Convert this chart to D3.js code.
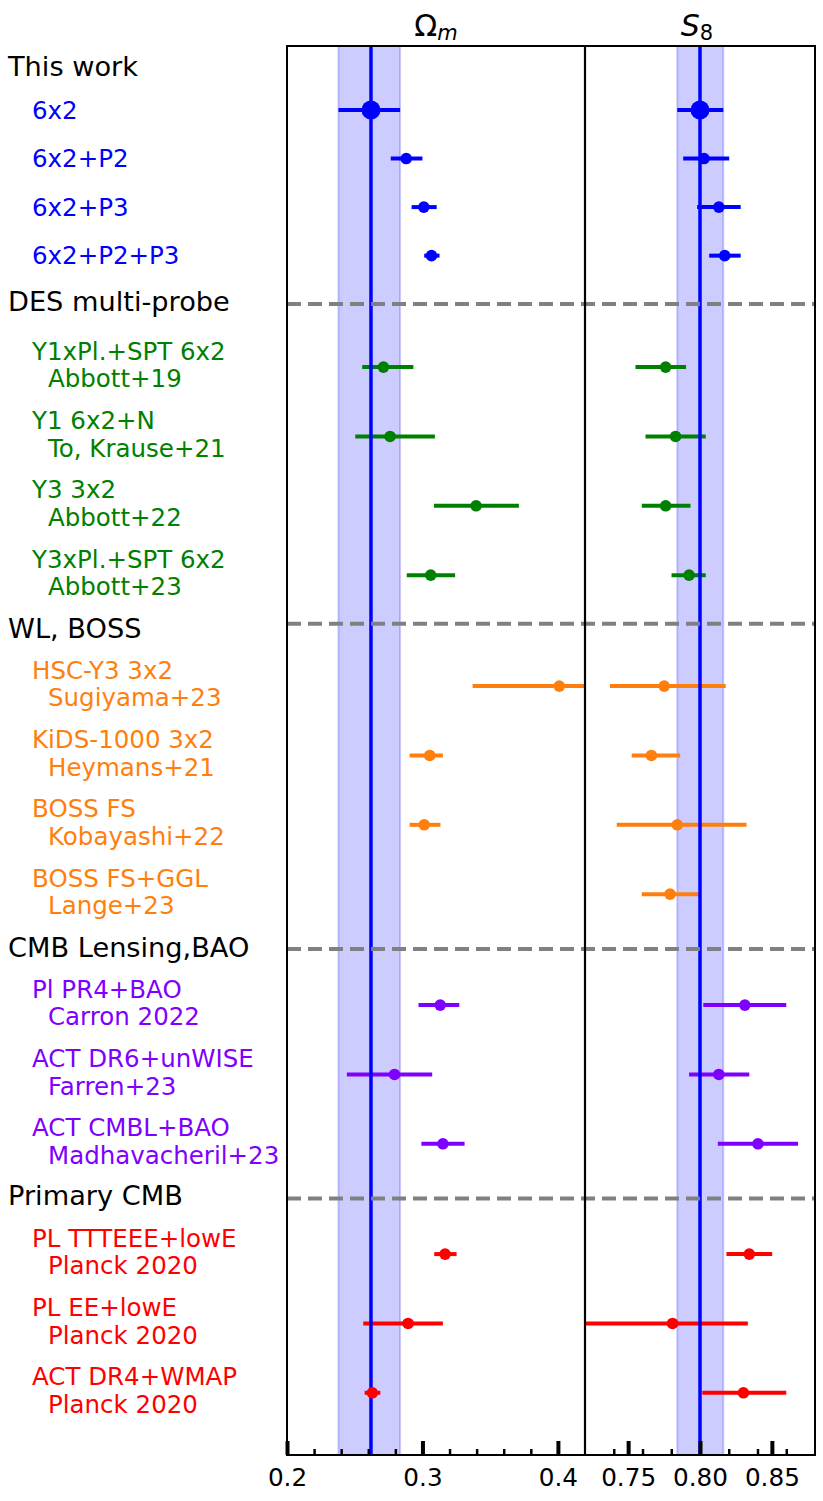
<!DOCTYPE html>
<html><head><meta charset="utf-8">
<script src="https://cdn.jsdelivr.net/npm/d3@7"></script>
<style>body{margin:0;background:#fff}svg{display:block}text{font-family:"DejaVu Sans",sans-serif}</style>
</head><body><svg id="c" width="823" height="1501"></svg>
<script>
// ---------------- data ----------------
const groups = ["This work", "DES multi-probe", "WL, BOSS", "CMB Lensing,BAO", "Primary CMB"];
const rowLabels = ["6x2","6x2+P2","6x2+P3","6x2+P2+P3",
  "Y1xPl.+SPT 6x2","Y1 6x2+N","Y3 3x2","Y3xPl.+SPT 6x2",
  "HSC-Y3 3x2","KiDS-1000 3x2","BOSS FS","BOSS FS+GGL",
  "Pl PR4+BAO","ACT DR6+unWISE","ACT CMBL+BAO",
  "PL TTTEEE+lowE","PL EE+lowE","ACT DR4+WMAP"];
const rowRefs = ["","","","",
  "Abbott+19","To, Krause+21","Abbott+22","Abbott+23",
  "Sugiyama+23","Heymans+21","Kobayashi+22","Lange+23",
  "Carron 2022","Farren+23","Madhavacheril+23",
  "Planck 2020","Planck 2020","Planck 2020"];
const rowGroup = [0,0,0,0, 1,1,1,1, 2,2,2,2, 3,3,3, 4,4,4];

const omegaM   = [0.262, 0.288, 0.301, 0.3067, 0.2712, 0.2761, 0.3396, 0.3061, 0.401, 0.3054, 0.3013, null, 0.3131, 0.2794, 0.3151, 0.3167, 0.2894, 0.263];
const omegaMLo = [0.238, 0.2766, 0.292, 0.3013, 0.2555, 0.2504, 0.3085, 0.2884, 0.337, 0.2905, 0.2905, null, 0.2971, 0.2442, 0.2992, 0.3087, 0.2563, 0.2573];
const omegaMHi = [0.2835, 0.300, 0.3105, 0.3126, 0.2933, 0.3092, 0.3712, 0.3241, 0.473, 0.3151, 0.3133, null, 0.3272, 0.3072, 0.3311, 0.3252, 0.3151, 0.2689];

const s8   = [0.800, 0.8028, 0.8131, 0.8172, 0.7761, 0.783, 0.7761, 0.7924, 0.7751, 0.7662, 0.7842, 0.7792, 0.8312, 0.8131, 0.8403, 0.8343, 0.7809, 0.8302];
const s8Lo = [0.7842, 0.7883, 0.798, 0.8064, 0.7551, 0.7621, 0.7595, 0.7802, 0.7373, 0.7525, 0.7421, 0.7595, 0.8023, 0.7924, 0.8124, 0.8184, 0.715, 0.8016];
const s8Hi = [0.8162, 0.8203, 0.8283, 0.8283, 0.7903, 0.804, 0.7934, 0.804, 0.8179, 0.7862, 0.8324, 0.7992, 0.860, 0.8343, 0.8682, 0.8502, 0.8333, 0.860];

const omTicks = [0.2, 0.3, 0.4];
const omMinor = [0.22,0.24,0.26,0.28,0.32,0.34,0.36,0.38];
const s8Ticks = [0.75, 0.80, 0.85];
const s8Minor = [0.74,0.76,0.78,0.82,0.84,0.86];

// ---------------- layout / style ----------------
const groupColors = ["#0000ff", "#008000", "#ff7f0e", "#7f00ff", "#ff0000"];
const L = 287, D = 585, R = 815, T = 46, B = 1455;
const groupStart = [0.923, 4.63, 9.23, 13.83, 17.42];
const groupStep = [0.7, 1, 1, 1, 1];
const headerPos = [0.296, 3.68, 8.39, 12.99, 16.576];
const dashPos = [3.72, 8.33, 13.02, 16.62];
const FS_HDR = 27.2, FS_ROW = 24.5, FS_TICK = 24.7;

const svg = d3.select("#c");
const xOm = d3.scaleLinear().domain([0.2, 0.42]).range([L, D]);
const xS8 = d3.scaleLinear().domain([0.72, 0.88]).range([D, R]);
const y = d3.scaleLinear().domain([0, 20.317]).range([T, B]);

const rowPos = rowGroup.map((g, i) => {
  const k = rowGroup.slice(0, i).filter(v => v === g).length;
  return groupStart[g] + k * groupStep[g];
});

const defs = svg.append("defs");
defs.append("clipPath").attr("id", "clipL").append("rect")
  .attr("x", L).attr("y", T).attr("width", D - L).attr("height", B - T);
defs.append("clipPath").attr("id", "clipR").append("rect")
  .attr("x", D).attr("y", T).attr("width", R - D).attr("height", B - T);

const panels = [
  {x: xOm, v: omegaM, lo: omegaMLo, hi: omegaMHi, clip: "clipL", ticks: omTicks, minor: omMinor, fmt: d3.format(".1f")},
  {x: xS8, v: s8, lo: s8Lo, hi: s8Hi, clip: "clipR", ticks: s8Ticks, minor: s8Minor, fmt: d3.format(".2f")}
];

panels.forEach(p => {
  const g = svg.append("g").attr("clip-path", `url(#${p.clip})`);
  // reference band (this work 6x2)
  g.append("rect")
    .attr("x", p.x(p.lo[0])).attr("y", T - 5)
    .attr("width", p.x(p.hi[0]) - p.x(p.lo[0])).attr("height", B - T + 10)
    .attr("fill", "rgba(0,0,255,0.2)").attr("stroke", "rgba(0,0,255,0.2)").attr("stroke-width", 2);
  // error bars
  const idx = d3.range(rowLabels.length).filter(i => p.v[i] !== null);
  g.selectAll("line.err").data(idx).join("line").attr("class", "err")
    .attr("x1", i => p.x(p.lo[i])).attr("x2", i => p.x(p.hi[i]))
    .attr("y1", i => y(rowPos[i])).attr("y2", i => y(rowPos[i]))
    .attr("stroke", i => groupColors[rowGroup[i]]).attr("stroke-width", 4);
  // vertical reference line
  g.append("line").attr("x1", p.x(p.v[0])).attr("x2", p.x(p.v[0]))
    .attr("y1", T).attr("y2", B).attr("stroke", "#0000ff").attr("stroke-width", 3.5);
  // markers
  g.selectAll("circle.pt").data(idx).join("circle").attr("class", "pt")
    .attr("cx", i => p.x(p.v[i])).attr("cy", i => y(rowPos[i]))
    .attr("r", i => i === 0 ? 9.5 : 5.8)
    .attr("fill", i => groupColors[rowGroup[i]]);
});

// dashed separators
svg.selectAll("line.sep").data(dashPos).join("line").attr("class", "sep")
  .attr("x1", L).attr("x2", R).attr("y1", d => y(d)).attr("y2", d => y(d))
  .attr("stroke", "#808080").attr("stroke-width", 4).attr("stroke-dasharray", "14,7");

// frame
svg.append("rect").attr("x", L).attr("y", T).attr("width", R - L).attr("height", B - T)
  .attr("fill", "none").attr("stroke", "#000").attr("stroke-width", 2);
svg.append("line").attr("x1", D).attr("x2", D).attr("y1", T).attr("y2", B)
  .attr("stroke", "#000").attr("stroke-width", 2.2);

// axes
panels.forEach(p => {
  const maj = svg.append("g").attr("transform", `translate(0,${B})`)
    .call(d3.axisBottom(p.x).tickValues(p.ticks).tickSize(-14).tickPadding(13.5).tickFormat(p.fmt));
  maj.select(".domain").remove();
  maj.selectAll("line").attr("stroke", "#000").attr("stroke-width", 4);
  maj.selectAll("text").attr("font-size", FS_TICK).attr("fill", "#000")
    .style("font-family", '"DejaVu Sans", sans-serif');
  const mn = svg.append("g").attr("transform", `translate(0,${B})`)
    .call(d3.axisBottom(p.x).tickValues(p.minor).tickSize(-6).tickFormat(""));
  mn.select(".domain").remove();
  mn.selectAll("line").attr("stroke", "#000").attr("stroke-width", 2.5);
});

// titles
const t1 = svg.append("text").attr("x", (L + D) / 2).attr("y", 36).attr("text-anchor", "middle")
  .attr("font-size", 30).attr("fill", "#000");
t1.append("tspan").text("Ω");
t1.append("tspan").attr("font-style", "italic").attr("font-size", 21).attr("dy", 4).text("m");
const t2 = svg.append("text").attr("x", (D + R) / 2 - 3).attr("y", 36).attr("text-anchor", "middle")
  .attr("font-size", 30).attr("fill", "#000");
t2.append("tspan").attr("font-style", "italic").text("S");
t2.append("tspan").attr("font-size", 21).attr("dy", 4).text("8");

// group headers
svg.selectAll("text.hdr").data(groups).join("text").attr("class", "hdr")
  .attr("x", 8).attr("y", (d, i) => y(headerPos[i]) + 9.7)
  .attr("font-size", FS_HDR).attr("fill", "#000").text(d => d);

// row labels
rowLabels.forEach((lab, i) => {
  const cy = y(rowPos[i]);
  const col = groupColors[rowGroup[i]];
  if (rowRefs[i] === "") {
    svg.append("text").attr("x", 32).attr("y", cy + 8.7).attr("font-size", FS_ROW)
      .attr("fill", col).text(lab);
  } else {
    svg.append("text").attr("x", 32).attr("y", cy - 7.5).attr("font-size", FS_ROW)
      .attr("fill", col).text(lab);
    svg.append("text").attr("x", 48).attr("y", cy + 20.2).attr("font-size", FS_ROW)
      .attr("fill", col).text(rowRefs[i]);
  }
});
</script></body></html>
